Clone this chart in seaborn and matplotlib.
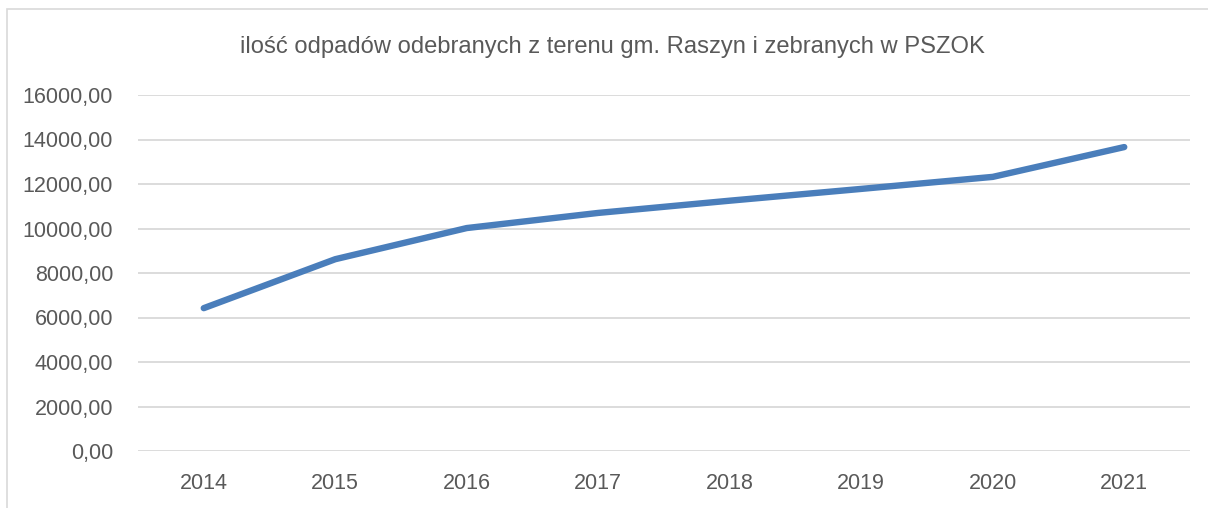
import matplotlib
matplotlib.use("Agg")
import matplotlib.pyplot as plt
import seaborn as sns
import pandas as pd
from matplotlib.patches import Rectangle
from matplotlib.ticker import FuncFormatter, MultipleLocator

years = ["2014", "2015", "2016", "2017", "2018", "2019", "2020", "2021"]
values = [6420, 8620, 10020, 10700, 11250, 11780, 12320, 13660]
title = "ilość odpadów odebranych z terenu gm. Raszyn i zebranych w PSZOK"

sns.set_theme(style="white")
plt.rcParams["font.family"] = ["Liberation Sans", "DejaVu Sans"]

df = pd.DataFrame({"rok": years, "ilosc": values})
df["pos"] = range(len(years))

fig = plt.figure(figsize=(12.08, 5.08), dpi=100)
ax = fig.add_axes([138/1208, 1-451/508, (1190-138)/1208, (451-95)/508])

# outer chart border
fig.patches.append(Rectangle((7/1208, -0.1), 1.2, 1-9/508+0.1, transform=fig.transFigure,
                             fill=False, edgecolor="#D9D9D9", linewidth=1.2))

for yv in range(0, 16001, 2000):
    ax.axhline(yv, color="#D9D9D9", linewidth=1.3, zorder=0)

sns.lineplot(data=df, x="pos", y="ilosc", ax=ax, color="#4A7EBB", linewidth=4.6,
             solid_capstyle="round", solid_joinstyle="round", zorder=3)

ax.set_xlim(-0.5, len(years) - 0.5)
ax.set_ylim(0, 16000)
ax.set_xticks(range(len(years)))
ax.set_xticklabels(years)
ax.yaxis.set_major_locator(MultipleLocator(2000))
ax.yaxis.set_major_formatter(FuncFormatter(lambda v, p: f"{v:.2f}".replace(".", ",")))
ax.tick_params(axis="both", length=0, labelsize=15.5, labelcolor="#595959")
ax.tick_params(axis="y", pad=18)
ax.tick_params(axis="x", pad=15.5)
for s in ax.spines.values():
    s.set_visible(False)
ax.set_xlabel("")
ax.set_ylabel("")
fig.text(612/1208, 1-47/508, title, ha="center", va="center", fontsize=17.1, color="#595959")

fig.savefig("out.png", dpi=100)
